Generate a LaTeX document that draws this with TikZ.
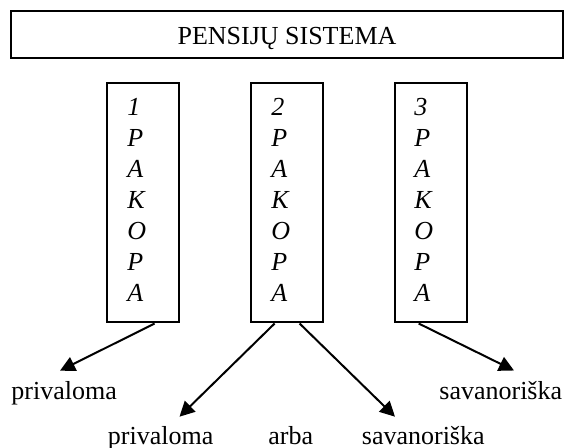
\documentclass[tikz,border=0pt]{standalone}
\usepackage{fontspec}
\setmainfont{Liberation Serif}
\usetikzlibrary{arrows.meta,calc}
\begin{document}
\begin{tikzpicture}[x=0.5pt,y=-0.5pt,
  frame/.style={draw, line width=1pt, rectangle, inner sep=0pt},
  pillar/.style={frame, minimum width=36pt, minimum height=119.75pt},
  letter/.style={anchor=base west, inner sep=0pt, font=\fontsize{13}{15}\selectfont\itshape},
  opt/.style={anchor=base west, inner sep=0pt, font=\fontsize{13}{15}\selectfont},
  link/.style={line width=1pt, -{Triangle[length=7.5pt,width=7.5pt]}}]
\useasboundingbox (0,0) rectangle (564,448);

% title bar
\node[frame, minimum width=276pt, minimum height=23.5pt,
      text height=9.8pt, text depth=0pt, font=\fontsize{13}{15}\selectfont]
      (sys) at (287,34.5) {PENSIJŲ SISTEMA};

% the three pillars
\node[pillar] (p1) at (143,202.75) {};
\node[pillar] (p2) at (287,202.75) {};
\node[pillar] (p3) at (430.5,202.75) {};

% vertical lettering inside the pillars
\foreach \bx/\nm/\num in {107/a/1, 251/b/2, 394/c/3} {
  \foreach \ch [count=\i] in {\num,P,A,K,O,P,A}
    \node[letter] (\nm\i) at (\bx+20,116+31*\i-31) {\ch};
}

% arrow ends
\coordinate (t1) at (60,370.7);
\coordinate (t2) at (179.5,416.7);
\coordinate (t3) at (395,416.7);
\coordinate (t4) at (514,370.5);

\draw[link] ($(p1.south west)!0.657!(p1.south east)$) -- (t1);
\draw[link] ($(p2.south west)!0.333!(p2.south east)$) -- (t2);
\draw[link] ($(p2.south west)!0.67!(p2.south east)$) -- (t3);
\draw[link] ($(p3.south west)!0.34!(p3.south east)$) -- (t4);

% captions
\node[opt] (l1) at (11,400) {privaloma};
\node[opt] (l2) at (439,400) {savanoriška};
\node[opt] (l3) at (107.5,445) {privaloma};
\node[opt] (l4) at (268,445) {arba};
\node[opt] (l5) at (361.5,445) {savanoriška};
\end{tikzpicture}
\end{document}
